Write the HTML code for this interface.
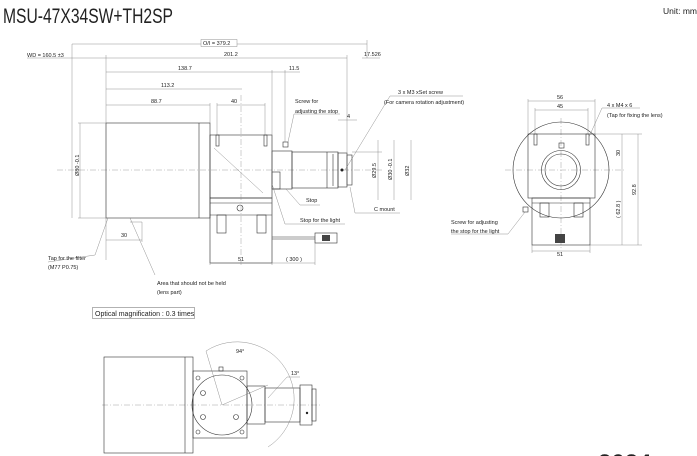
<!DOCTYPE html>
<html><head><meta charset="utf-8"><style>
html,body{margin:0;padding:0;background:#fff;width:697px;height:456px;overflow:hidden}
svg{display:block}
text{font-family:"Liberation Sans",sans-serif;fill:#222}
.s{font-size:5.5px}
.l{stroke:#333;stroke-width:0.6;fill:none}
.t{stroke:#777;stroke-width:0.4;fill:none}
.c{stroke:#888;stroke-width:0.4;fill:none;stroke-dasharray:6 2 1 2}
</style></head><body>
<svg width="697" height="456" viewBox="0 0 697 456" style="overflow:hidden">
<defs><clipPath id="cp"><rect x="0" y="0" width="697" height="456"/></clipPath></defs>
<g clip-path="url(#cp)">
<text x="3" y="23" font-size="21" textLength="170" lengthAdjust="spacingAndGlyphs">MSU-47X34SW+TH2SP</text>
<text x="663" y="14" font-size="8.5">Unit: mm</text>

<line class="c" x1="57" y1="170" x2="382" y2="170"/>
<rect class="l" x="106" y="123" width="104" height="95"/>
<line class="l" x1="199" y1="123" x2="199" y2="218"/>
<rect class="l" x="210" y="135" width="62" height="63"/>
<line class="t" x1="214" y1="148" x2="263" y2="193"/>
<rect class="l" x="216" y="135" width="3" height="11"/><rect class="l" x="264" y="135" width="3" height="11"/>
<rect class="l" x="210" y="198" width="62" height="65"/>
<line class="l" x1="210" y1="203" x2="272" y2="203"/>
<line class="l" x1="210" y1="215" x2="272" y2="215"/>
<rect class="l" x="217" y="215" width="9" height="18"/><rect class="l" x="257" y="215" width="9" height="18"/>
<circle class="l" cx="240" cy="208" r="3"/>
<line class="c" x1="241" y1="95" x2="241" y2="265"/>
<rect class="l" x="272" y="151" width="20" height="38"/>
<rect class="l" x="272" y="172" width="8" height="17"/>
<rect class="l" x="283" y="142" width="5" height="5"/>
<rect class="l" x="292" y="152" width="46" height="36"/>
<line class="l" x1="327" y1="152" x2="327" y2="188"/><line class="l" x1="333" y1="154" x2="333" y2="186"/>
<rect class="l" x="338" y="153" width="9" height="34"/>
<rect class="l" x="347" y="155" width="5" height="30"/>
<circle cx="342" cy="170" r="1.5" fill="#222"/>
<line class="t" x1="352" y1="152" x2="382" y2="152"/>
<line class="l" x1="272" y1="237" x2="315" y2="237"/><line class="l" x1="272" y1="239" x2="315" y2="239"/>
<rect class="l" x="315" y="233" width="22" height="10"/><rect fill="#444" x="322" y="235" width="8" height="6"/>

<g class="t">
<line x1="72" y1="44" x2="367" y2="44"/><line x1="72" y1="44" x2="72" y2="218"/><line x1="367" y1="40" x2="367" y2="58"/>
<line x1="27" y1="58" x2="347" y2="58"/><line x1="106" y1="55" x2="106" y2="260"/><line x1="347" y1="55" x2="347" y2="185"/>
<line x1="362" y1="58" x2="380" y2="58"/>
<line x1="106" y1="72" x2="300" y2="72"/><line x1="272" y1="70" x2="272" y2="265"/><line x1="285" y1="70" x2="285" y2="142"/>
<line x1="106" y1="89" x2="242" y2="89"/>
<line x1="106" y1="105" x2="210" y2="105"/><line x1="210" y1="103" x2="210" y2="123"/>
<line x1="217" y1="105" x2="265" y2="105"/><line x1="217" y1="103" x2="217" y2="135"/><line x1="265" y1="103" x2="265" y2="135"/>
<line x1="80" y1="123" x2="80" y2="218"/><line x1="78" y1="123" x2="106" y2="123"/><line x1="78" y1="218" x2="106" y2="218"/>
<line x1="106" y1="240" x2="142" y2="240"/><line x1="142" y1="222" x2="142" y2="242"/><line x1="130" y1="222" x2="142" y2="222"/>
<line x1="210" y1="263" x2="315" y2="263"/><line x1="210" y1="240" x2="210" y2="265"/><line x1="315" y1="240" x2="315" y2="265"/>
<line x1="338" y1="120" x2="357" y2="120"/>
<line x1="378" y1="140" x2="378" y2="200"/><line x1="394" y1="140" x2="394" y2="200"/><line x1="411" y1="140" x2="411" y2="200"/>
<polyline points="294,114 288,142"/><line x1="294" y1="114" x2="340" y2="114"/>
<polyline points="286,189 300,205 320,205"/>
<polyline points="272,184 285,224 345,224"/>
<polyline points="350,187 355,213 400,213"/>
<polyline points="345,170 390,96 463,96"/>
<polyline points="108,218 95,255 48,262"/>
<polyline points="130,218 155,275"/>
</g>
<g class="s">
<rect x="201" y="39.5" width="36" height="7" fill="#fff" stroke="#777" stroke-width="0.4"/>
<text x="203" y="45">O/I = 379.2</text>
<text x="27" y="57">WD = 160.5 ±3</text>
<text x="224" y="56">201.2</text>
<text x="364" y="56">17.526</text>
<text x="178" y="70">138.7</text>
<text x="289" y="70">11.5</text>
<text x="161" y="87">113.2</text>
<text x="151" y="103">88.7</text>
<text x="231" y="103">40</text>
<text x="295" y="103">Screw for</text>
<text x="295" y="113">adjusting the stop</text>
<text x="398" y="94">3 x M3 xSet screw</text>
<text x="384" y="104">(For camera rotation adjustment)</text>
<text x="347" y="118">4</text>
<text x="121" y="237">30</text>
<text x="48" y="260">Tap for the filter</text>
<text x="48" y="269">(M77  P0.75)</text>
<text x="157" y="285">Area that should not be held</text>
<text x="157" y="294">(lens part)</text>
<text x="306" y="202">Stop</text>
<text x="300" y="222">Stop for the light</text>
<text x="374" y="211">C mount</text>
<text x="238" y="261">51</text>
<text x="286" y="261">( 300 )</text>
<text transform="translate(79,176) rotate(-90)">Ø80 -0.1</text>
<text transform="translate(376,178) rotate(-90)">Ø29.5</text>
<text transform="translate(392,180) rotate(-90)">Ø30 -0.1</text>
<text transform="translate(409,176) rotate(-90)">Ø32</text>
</g>

<line class="c" x1="505" y1="170" x2="625" y2="170"/>
<line class="c" x1="561" y1="118" x2="561" y2="250"/>
<circle class="l" cx="561" cy="170" r="48"/>
<rect class="l" x="528" y="134" width="67" height="64" fill="#fff"/>
<circle class="l" cx="561" cy="170" r="19.5"/><circle class="l" cx="561" cy="170" r="16"/>
<rect class="l" x="559" y="143" width="5" height="5"/>
<rect class="l" x="534" y="134" width="3" height="11"/><rect class="l" x="586" y="134" width="3" height="11"/>
<rect class="l" x="532" y="198" width="58" height="47" fill="#fff"/>
<line class="l" x1="532" y1="203" x2="590" y2="203"/>
<rect class="l" x="540" y="203" width="9" height="14"/><rect class="l" x="574" y="203" width="9" height="14"/>
<rect class="l" x="523" y="207" width="5" height="5"/>
<rect fill="#444" x="555" y="234" width="10" height="9"/>
<g class="t">
<line x1="528" y1="101" x2="595" y2="101"/><line x1="528" y1="99" x2="528" y2="134"/><line x1="595" y1="99" x2="595" y2="134"/>
<line x1="535" y1="110" x2="588" y2="110"/><line x1="535" y1="108" x2="535" y2="134"/><line x1="588" y1="108" x2="588" y2="134"/>
<line x1="532" y1="251" x2="590" y2="251"/><line x1="532" y1="245" x2="532" y2="253"/><line x1="590" y1="245" x2="590" y2="253"/>
<line x1="622" y1="134" x2="622" y2="245"/><line x1="638" y1="134" x2="638" y2="245"/>
<line x1="595" y1="134" x2="642" y2="134"/><line x1="590" y1="245" x2="642" y2="245"/>
<polyline points="589,137 602,108 640,108"/>
<polyline points="525,212 508,234 451,234"/>
</g>
<g class="s">
<text x="557" y="99">56</text><text x="557" y="108">45</text><text x="557" y="256">51</text>
<text x="607" y="107">4 x M4 x 6</text>
<text x="607" y="117">(Tap for fixing the lens)</text>
<text x="451" y="224">Screw for adjusting</text>
<text x="451" y="233">the stop for the light</text>
<text transform="translate(620,156) rotate(-90)">30</text>
<text transform="translate(620,218) rotate(-90)">( 62.8 )</text>
<text transform="translate(636,195) rotate(-90)">92.8</text>
</g>

<rect x="92.5" y="307.5" width="102" height="11" fill="#fff" stroke="#666" stroke-width="0.5"/>
<text x="95" y="316" font-size="7">Optical magnification : 0.3 times</text>

<line class="c" x1="102" y1="405" x2="320" y2="405"/>
<rect class="l" x="104" y="357" width="89" height="96"/>
<line class="l" x1="185" y1="357" x2="185" y2="453"/>
<rect class="l" x="193" y="371" width="54" height="67"/>
<circle class="l" cx="222" cy="405" r="30"/>
<g class="l">
<circle cx="198" cy="378" r="2"/><circle cx="242" cy="378" r="2"/><circle cx="198" cy="432" r="2"/><circle cx="242" cy="432" r="2"/>
<circle cx="203" cy="393" r="2.5"/><circle cx="203" cy="417" r="2.5"/><circle cx="236" cy="417" r="2.5"/>
</g>
<rect class="l" x="219" y="367" width="4" height="4"/>
<rect class="l" x="247" y="386" width="18" height="38"/>
<rect class="l" x="265" y="388" width="35" height="34"/>
<rect class="l" x="300" y="385" width="12" height="40"/>
<rect class="l" x="312" y="389" width="4" height="32"/>
<circle cx="307" cy="413" r="1.2" fill="#222"/>
<g class="t">
<path d="M206,351 A56,56 0 0 1 268,447"/>
<line x1="222" y1="405" x2="206" y2="351"/>
<line x1="222" y1="405" x2="268" y2="385"/>
<polyline points="268,398 287,377 300,377"/>
</g>
<text class="s" x="236" y="353">94°</text>
<text class="s" x="291" y="375">13°</text>

<text x="598" y="471" font-size="24" font-weight="bold" fill="#111">2024</text>
</g>
</svg>
</body></html>
